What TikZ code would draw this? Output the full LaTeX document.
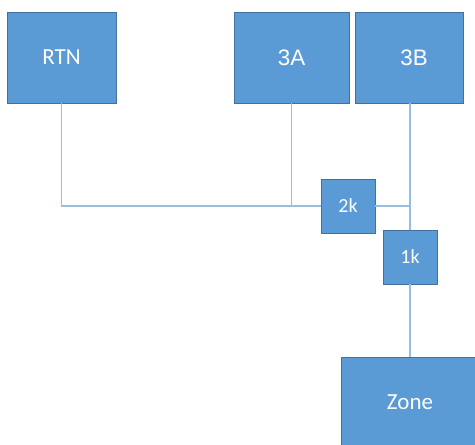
\documentclass[tikz,border=0pt]{standalone}
\usepackage{fontspec}
\setmainfont{Carlito}
\newfontfamily\arialfont{Liberation Sans}
\usetikzlibrary{positioning,calc}
\definecolor{boxcolor}{RGB}{91, 155, 213}
\definecolor{edgecolor}{RGB}{65, 113, 156}
\definecolor{wirecolor}{RGB}{150, 190, 228}

\begin{document}
\begin{tikzpicture}[x=0.5pt, y=-0.5pt,
    block/.style={rectangle, draw=edgecolor, line width=0.4pt, fill=boxcolor, inner sep=0pt, align=center, text=white, font=\fontsize{11.5}{13}\selectfont},
    small/.style={block, minimum width=27pt, minimum height=27pt, font=\fontsize{10}{12}\selectfont},
    wire/.style={draw=wirecolor, line width=0.6pt},
]
    \useasboundingbox (0, 0) rectangle (475, 444);

    % Sources on top
    \node[block, minimum width=54.5pt, minimum height=45.5pt] (rtn) at (61.5, 57.5) {RTN};
    \node[block, minimum width=57.5pt, minimum height=45.5pt, font=\fontsize{11.2}{13}\arialfont] (threeA) at (291.5, 57.5) {\raisebox{-2.7pt}{3A}};
    \node[block, minimum width=54pt, minimum height=45.5pt, font=\fontsize{11.2}{13}\arialfont] (threeB) at (409, 57.5) {\raisebox{-2.7pt}{\hspace{5pt}3B}};

    % Resistors
    \node[small] (twok) at (348, 206) {2k};
    \node[small] (onek) at (410, 257) {1k};

    % Output
    \node[block, minimum width=69pt, minimum height=45pt] (zone) at (410, 402) {Zone};

    % Junctions
    \coordinate (jA) at (threeA.south |- twok.west);
    \coordinate (jB) at (onek.north |- twok.east);

    % Wires
    \draw[wire] (rtn.south) |- (twok.west);
    \draw[wire] (threeA.south) -- (jA);
    \draw[wire] (threeB.south -| onek.north) -- (onek.north);
    \draw[wire] (twok.east) -- (jB);
    \draw[wire] (onek.south) -- (zone.north);
\end{tikzpicture}
\end{document}
